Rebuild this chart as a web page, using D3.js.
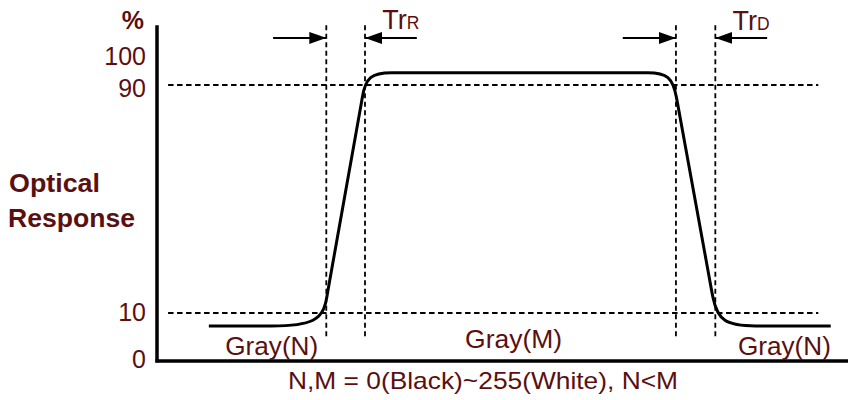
<!DOCTYPE html>
<html>
<head>
<meta charset="utf-8">
<script src="https://cdn.jsdelivr.net/npm/d3@7"></script>
<style>
  body { margin: 0; background: #fff; }
  text { font-family: "Liberation Sans", Arial, sans-serif; fill: #5a1010; }
</style>
</head>
<body>
<div id="chart"></div>
<script>
// Response levels (%) labelled on the left axis
const pctTicks = [0, 10, 90, 100];
const refLevels = [10, 90];

// Optical response waveform: time (arbitrary units) and response (%)
// corner = 1 marks a polyline corner that gets rounded off
const waveTime = [7.5, 15.1, 23.9, 24.7, 29.6, 30.3, 34.7, 70.3, 74.5, 75.3, 80.3, 81.3, 87.7, 97.5];
const waveResp = [7.3, 7.3, 7.3, 17.4, 84.0, 94.3, 94.3, 94.3, 94.3, 84.0, 17.4, 7.3, 7.3, 7.3];
const waveCorner = [0, 0, 1, 0, 0, 1, 0, 0, 1, 0, 0, 1, 0, 0];

// 10% / 90% crossing times (rise start, rise end, decay start, decay end)
const markTimes = [24.5, 30.1, 75.1, 80.8];
const arrowFrom = [16.8, 37.6, 67.4, 88.3];
const arrowTo = [24.5, 30.1, 75.1, 80.8];

const timeNames = ["R", "D"];
const grayNames = ["Gray(N)", "Gray(M)", "Gray(N)"];

const width = 848;
const height = 400;

const svg = d3.select("#chart")
  .append("svg")
  .attr("width", width)
  .attr("height", height);

// schematic scales (y is piecewise so the 10-90 band gets most of the room)
const x = d3.scaleLinear().domain([0, 100]).range([157, 848]);
const y = d3.scaleLinear().domain([0, 10, 90, 100]).range([361, 313, 85, 56.5]);

const ink = "#5a1010";

// arrowhead
svg.append("defs").append("marker")
  .attr("id", "head")
  .attr("markerUnits", "userSpaceOnUse")
  .attr("viewBox", "0 0 17 12")
  .attr("refX", 17)
  .attr("refY", 6)
  .attr("markerWidth", 17)
  .attr("markerHeight", 12)
  .attr("orient", "auto")
  .append("path")
  .attr("d", "M0,0L17,6L0,12Z")
  .attr("fill", "#000");

// reference dashed lines
svg.selectAll(".ref")
  .data(refLevels)
  .enter()
  .append("line")
  .attr("x1", x(1.6))
  .attr("x2", x(95.7))
  .attr("y1", d => y(d))
  .attr("y2", d => y(d))
  .attr("stroke", "#000")
  .attr("stroke-width", 1.8)
  .attr("stroke-dasharray", "5.5,3.5");

svg.selectAll(".mark")
  .data(markTimes)
  .enter()
  .append("line")
  .attr("x1", d => x(d))
  .attr("x2", d => x(d))
  .attr("y1", y(111))
  .attr("y2", y(5))
  .attr("stroke", "#000")
  .attr("stroke-width", 1.8)
  .attr("stroke-dasharray", "5,3.5");

// arrows
svg.selectAll(".arrow")
  .data(arrowFrom)
  .enter()
  .append("line")
  .attr("x1", d => x(d))
  .attr("x2", (d, i) => x(arrowTo[i]))
  .attr("y1", y(106.5))
  .attr("y2", y(106.5))
  .attr("stroke", "#000")
  .attr("stroke-width", 1.8)
  .attr("marker-end", "url(#head)");

// Tr labels
[[32.6, 109.5], [83.3, 109.3]].forEach((p, i) => {
  const lab = svg.append("text")
    .attr("x", x(p[0]))
    .attr("y", y(p[1]))
    .attr("font-size", "27px");
  lab.append("tspan").text("Tr");
  lab.append("tspan").attr("font-size", "17.5px").text(timeNames[i]);
});

// waveform: plain points tripled so straight runs stay straight, corners rounded
const pts = [];
waveTime.forEach((t, i) => {
  const n = waveCorner[i] ? 1 : 3;
  for (let k = 0; k < n; k++) pts.push([t, waveResp[i]]);
});

const line = d3.line()
  .x(d => x(d[0]))
  .y(d => y(d[1]))
  .curve(d3.curveBasis);

svg.append("path")
  .datum(pts)
  .attr("d", line)
  .attr("fill", "none")
  .attr("stroke", "#000")
  .attr("stroke-width", 3)
  .attr("stroke-linejoin", "round");

// axes
svg.append("line")
  .attr("x1", x(0)).attr("x2", x(0))
  .attr("y1", y(111)).attr("y2", y(0) + 1.5)
  .attr("stroke", "#000").attr("stroke-width", 3.5);

svg.append("line")
  .attr("x1", x(0) - 1.5).attr("x2", x(100))
  .attr("y1", y(0)).attr("y2", y(0))
  .attr("stroke", "#000").attr("stroke-width", 3.5);

const yAxis = d3.axisLeft(y).tickValues(pctTicks).tickSize(0).tickPadding(11);
const ga = svg.append("g")
  .attr("transform", `translate(${x(0)},0)`)
  .call(yAxis);
ga.select(".domain").remove();
ga.selectAll("text")
  .attr("font-family", "Liberation Sans, Arial, sans-serif")
  .attr("font-size", "25px")
  .attr("fill", ink)
  .attr("dy", d => d === 90 ? "0.45em" : d === 0 ? "0.26em" : "0.3em");

svg.append("text")
  .attr("x", 144)
  .attr("y", 29)
  .attr("text-anchor", "end")
  .attr("font-size", "25px")
  .attr("font-weight", "bold")
  .text("%");

// y title
svg.append("text")
  .attr("x", 9).attr("y", 192)
  .attr("font-size", "25px").attr("font-weight", "bold")
  .attr("textLength", 91).attr("lengthAdjust", "spacingAndGlyphs")
  .text("Optical");
svg.append("text")
  .attr("x", 8).attr("y", 227)
  .attr("font-size", "25px").attr("font-weight", "bold")
  .attr("textLength", 127).attr("lengthAdjust", "spacingAndGlyphs")
  .text("Response");

// gray level labels
const grayTime = [16.6, 51.6, 90.8];
const grayResp = [1.25, 2.7, 1.25];
svg.selectAll(".gray")
  .data(grayNames)
  .enter()
  .append("text")
  .attr("x", (d, i) => x(grayTime[i]))
  .attr("y", (d, i) => y(grayResp[i]))
  .attr("text-anchor", "middle")
  .attr("font-size", "25px")
  .attr("textLength", (d, i) => i === 1 ? 97 : 93)
  .attr("lengthAdjust", "spacingAndGlyphs")
  .text(d => d);

// footnote
svg.append("text")
  .attr("x", 483)
  .attr("y", 389)
  .attr("text-anchor", "middle")
  .attr("font-size", "24px")
  .attr("textLength", 390)
  .attr("lengthAdjust", "spacingAndGlyphs")
  .text("N,M = 0(Black)~255(White), N<M");
</script>
</body>
</html>
